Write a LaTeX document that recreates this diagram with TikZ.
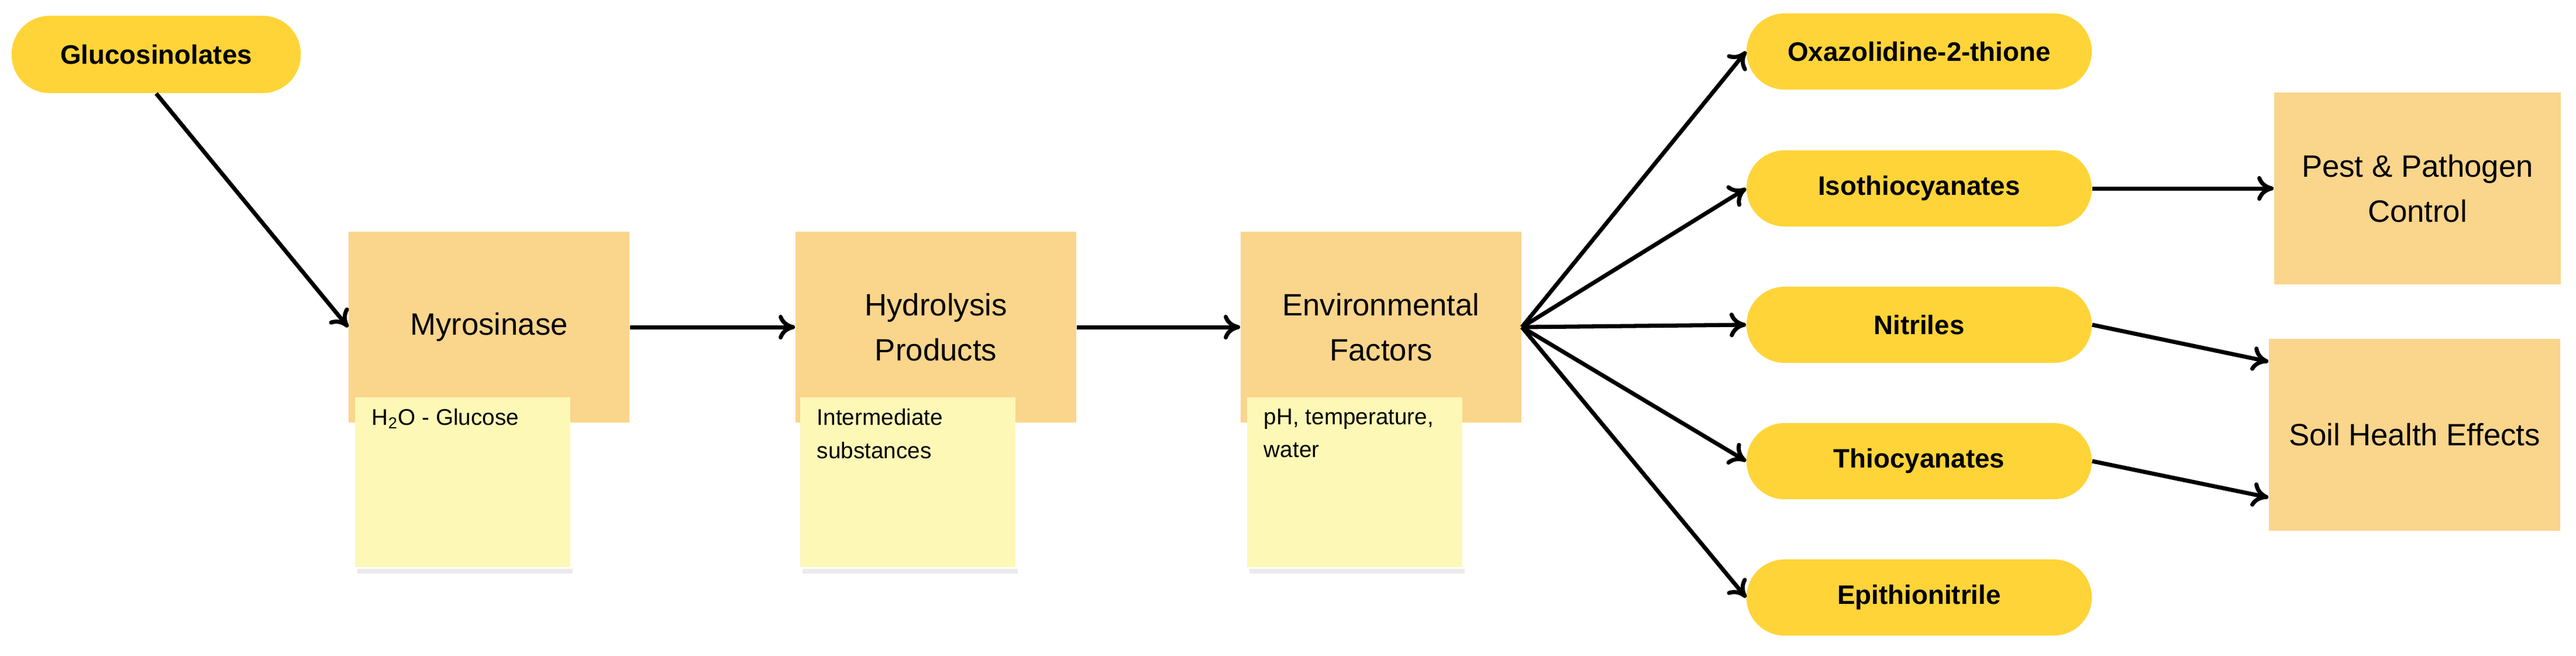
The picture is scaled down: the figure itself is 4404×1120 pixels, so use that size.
\documentclass[tikz,border=0pt]{standalone}
\usepackage{fontspec}
\setmainfont{Liberation Sans}
\usetikzlibrary{positioning,arrows.meta}
\definecolor{pillyellow}{HTML}{FFD438}
\definecolor{boxorange}{HTML}{FAD58C}
\definecolor{noteyellow}{HTML}{FDF8B6}
\tikzset{
  pill/.style={rounded corners=0.65cm, fill=pillyellow, minimum width=5.9cm, minimum height=1.3cm, font=\fontsize{13}{15}\selectfont\bfseries},
  stage/.style={fill=boxorange, minimum width=4.8cm, minimum height=3.26cm, align=center, font=\fontsize{15}{22}\selectfont},
  note/.style={fill=noteyellow, minimum width=3.68cm, minimum height=2.89cm, inner sep=0pt, font=\fontsize{11}{16}\selectfont},
  flow/.style={-{To[length=8pt,width=12pt]}, line width=2pt}
}
\begin{document}
\begin{tikzpicture}[x=0.01cm, y=-0.01cm]
        \useasboundingbox (0,0) rectangle (4404,1120);

        % Source
        \node[pill, minimum width=4.94cm, minimum height=1.32cm] (gluc) at (267,93) {Glucosinolates};

        % Main stages
        \node[stage] (myro) at (836,559) {Myrosinase};
        \node[stage] (hydro) at (1600,559) {Hydrolysis\\Products};
        \node[stage] (env) at (2361,559) {Environmental\\Factors};

        % Sticky notes
        \fill[black!8] (611,972) rectangle (979,980);
        \node[note] (note1) at (791,824) {\parbox[t][2.5cm]{3.1cm}{H\textsubscript{2}O - Glucose}};
        \fill[black!8] (1372,972) rectangle (1740,980);
        \node[note] (note2) at (1552,824) {\parbox[t][2.5cm]{3.1cm}{Intermediate\\substances}};
        \fill[black!8] (2136,972) rectangle (2504,980);
        \node[note] (note3) at (2316,824) {\parbox[t][2.5cm]{3.1cm}{pH, temperature,\\water}};

        % Products
        \node[pill] (oxaz) at (3281,88) {Oxazolidine-2-thione};
        \node[pill] (iso) at (3281,322) {Isothiocyanates};
        \node[pill] (nitr) at (3281,555) {Nitriles};
        \node[pill] (thio) at (3281,788) {Thiocyanates};
        \node[pill] (epi) at (3281,1021) {Epithionitrile};

        % Effects
        \node[stage, minimum width=4.9cm, minimum height=3.27cm] (pest) at (4133,322) {Pest \& Pathogen\\Control};
        \node[stage, minimum width=4.98cm, minimum height=3.27cm] (soil) at (4128,743) {Soil Health Effects};

        % Arrows
        \draw[flow] (gluc.south) -- (myro.west);
        \draw[flow] (myro) -- (hydro);
        \draw[flow] (hydro) -- (env);
        \foreach \p in {oxaz, iso, nitr, thio, epi}
            \draw[flow] (env.east) -- (\p.west);
        \draw[flow] (iso) -- (pest);
        \draw[flow] (nitr.east) -- ([yshift=1.25cm]soil.west);
        \draw[flow] (thio.east) -- ([yshift=-1.07cm]soil.west);
    \end{tikzpicture}
\end{document}
